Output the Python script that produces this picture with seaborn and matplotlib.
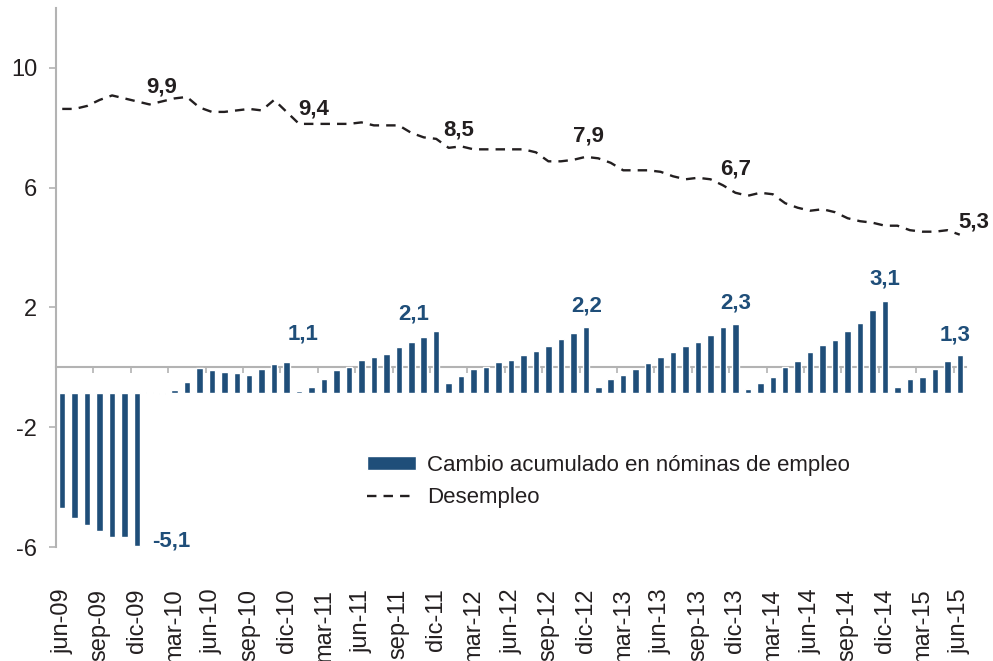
import numpy as np
import pandas as pd
import seaborn as sns
import matplotlib.pyplot as plt
from matplotlib.patches import Patch
from matplotlib.lines import Line2D

# meses jun-09 ... jun-15
nombres_mes = ["ene", "feb", "mar", "abr", "may", "jun", "jul", "ago", "sep", "oct", "nov", "dic"]
meses = [f"{m}-{a % 100:02d}" for a in range(2009, 2016) for m in nombres_mes][5:78]

# cambio acumulado en nominas (millones)
empleo = [
    -3.83, -4.17, -4.39, -4.61, -4.80, -4.80, -5.09,
    0.04, -0.02, 0.12, 0.38, 0.86, 0.77, 0.71, 0.67, 0.61, 0.83, 0.99, 1.06,
    0.08, 0.22, 0.47, 0.78, 0.87, 1.10, 1.20, 1.32, 1.54, 1.72, 1.89, 2.08,
    0.36, 0.59, 0.83, 0.89, 1.04, 1.12, 1.29, 1.43, 1.59, 1.82, 2.03, 2.23,
    0.20, 0.48, 0.62, 0.82, 1.01, 1.21, 1.37, 1.57, 1.72, 1.96, 2.22, 2.32,
    0.14, 0.34, 0.56, 0.87, 1.09, 1.37, 1.60, 1.78, 2.07, 2.36, 2.77, 3.09,
    0.20, 0.47, 0.54, 0.80, 1.09, 1.28,
]

# tasa de desempleo (%)
desempleo = [
    9.5, 9.5, 9.6, 9.8, 9.95, 9.85, 9.75,
    9.65, 9.75, 9.85, 9.9, 9.55, 9.4, 9.4, 9.45, 9.5, 9.45, 9.8, 9.4,
    9.0, 9.0, 9.0, 9.0, 9.0, 9.05, 8.95, 8.95, 8.95, 8.7, 8.55, 8.5,
    8.2, 8.25, 8.15, 8.15, 8.15, 8.15, 8.15, 8.05, 7.75, 7.75, 7.8, 7.9,
    7.85, 7.7, 7.45, 7.45, 7.45, 7.4, 7.25, 7.15, 7.2, 7.15, 6.95, 6.7,
    6.6, 6.7, 6.65, 6.35, 6.2, 6.1, 6.15, 6.05, 5.85, 5.75, 5.7, 5.6,
    5.6, 5.45, 5.4, 5.4, 5.45, 5.3,
]

# etiquetas de datos: mes, valor, desplazamiento (px)
etiq_empleo = [("dic-09", -5.1, (34, 5)), ("dic-10", 1.1, (16, 26)), ("dic-11", 2.1, (-23, 17)),
               ("dic-12", 2.2, (1, 22)), ("dic-13", 2.3, (0, 22)), ("dic-14", 3.1, (0, 22)),
               ("jun-15", 1.3, (-5, 19))]
etiq_desempleo = [("dic-09", 9.9, (25, 14)), ("dic-10", 9.4, (27, 3)), ("dic-11", 8.5, (22, 9)),
                  ("dic-12", 7.9, (3, 21)), ("dic-13", 6.7, (0, 24)), ("jun-15", 5.3, (14, 13))]

AZUL = "#1f4e79"
NEGRO = "#231f20"
GRIS = "#b3b3b3"

sns.set_style("white")
plt.rcParams["font.family"] = ["Liberation Sans", "DejaVu Sans"]
plt.rcParams["axes.unicode_minus"] = False

df = pd.DataFrame({"mes": meses, "empleo": empleo, "desempleo": desempleo})
df["pos"] = np.arange(len(df))

fig = plt.figure(figsize=(9.93, 6.61), dpi=100)
ax = fig.add_axes([56 / 993, 1 - 547 / 661, 910 / 993, 539 / 661])
ax2 = ax.twinx()

sns.barplot(data=df, x="mes", y="empleo", color=AZUL, saturation=1, width=0.52, ax=ax2)
sns.lineplot(data=df, x="pos", y="desempleo", color=NEGRO, lw=1.7, ax=ax2)
ax2.lines[-1].set_dashes([4, 3])

off = 0.87
ax2.set_ylim(-6 + off, 12 + off)
ax2.set_xlim(-0.5, 72.5)
ax2.yaxis.set_visible(False)
ax2.set_xlabel("")
for s in ax2.spines.values():
    s.set_visible(False)

pos = {m: i for i, m in enumerate(meses)}
for m, v, (dx, dy) in etiq_empleo:
    ax2.annotate(f"{v:.1f}".replace(".", ","), xy=(pos[m], v), xytext=(dx, dy),
                 textcoords="offset pixels", ha="center", va="center",
                 fontsize=16, fontweight="bold", color=AZUL)
for m, v, (dx, dy) in etiq_desempleo:
    ax2.annotate(f"{v:.1f}".replace(".", ","), xy=(pos[m], df["desempleo"][pos[m]]), xytext=(dx, dy),
                 textcoords="offset pixels", ha="center", va="center",
                 fontsize=16, fontweight="bold", color=NEGRO)

# eje principal
ax.set_ylim(-6, 12)
ax.set_yticks([-6, -2, 2, 6, 10])
ax.spines["top"].set_visible(False)
ax.spines["right"].set_visible(False)
ax.spines["left"].set_color(GRIS)
ax.spines["left"].set_linewidth(1.5)
ax.spines["bottom"].set_position(("data", 0))
ax.spines["bottom"].set_color(GRIS)
ax.spines["bottom"].set_linewidth(1.5)
ax.set_xticks(np.arange(2.5, 72, 3))
ax.set_xlim(-0.5, 72.5)
ax.tick_params(axis="x", direction="out", length=4.5, width=1.2, color=GRIS, labelbottom=False, bottom=True)
ax.tick_params(axis="y", direction="out", length=5, width=1.2, color=GRIS, labelsize=17,
               labelcolor=NEGRO, pad=8.5, left=True)
ax.set_ylabel("")
ax.set_xlabel("")

sec = ax.secondary_xaxis(0)
sec.set_xticks(np.arange(0, 73, 3), labels=meses[::3], rotation=90)
sec.tick_params(length=0, labelsize=17, labelcolor=NEGRO, pad=30)
sec.spines["bottom"].set_visible(False)

handles = [Patch(facecolor=AZUL), Line2D([], [], color=NEGRO, lw=1.7, dashes=(4, 3))]
fig.legend(handles, ["Cambio acumulado en nóminas de empleo", "Desempleo"],
           loc="upper left", bbox_to_anchor=(367 / 993, 1 - 455 / 661), frameon=False,
           fontsize=16, handlelength=2.2, handleheight=0.55, handletextpad=0.5,
           labelspacing=0.5, borderpad=0, borderaxespad=0, labelcolor=NEGRO)

fig.savefig("out.png", dpi=100)
